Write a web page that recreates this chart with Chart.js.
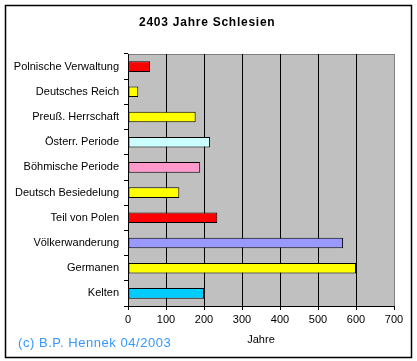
<!DOCTYPE html>
<html>
<head>
<meta charset="utf-8">
<script src="https://cdn.jsdelivr.net/npm/chart.js@4"></script>
<style>
  html, body { margin: 0; padding: 0; background: #fff; }
  #wrap { width: 417px; height: 361px; }
</style>
</head>
<body>
<div id="wrap"><canvas id="c" width="417" height="361"></canvas></div>
<script>
const categories = ["Polnische Verwaltung", "Deutsches Reich", "Preuß. Herrschaft", "Österr. Periode", "Böhmische Periode", "Deutsch Besiedelung", "Teil von Polen", "Völkerwanderung", "Germanen", "Kelten"];
const years = [58, 27, 178, 216, 190, 135, 235, 566, 600, 200];
const barColors = ["#FF0000", "#FFFF00", "#FFFF00", "#CCFFFF", "#FF99CC", "#FFFF00", "#FF0000", "#9999FF", "#FFFF00", "#00CCFF"];
const xTicks = [0, 100, 200, 300, 400, 500, 600, 700];
const chartTitle = "2403 Jahre Schlesien";
const axisTitle = "Jahre";
const credit = "(c) B.P. Hennek 04/2003";

const FONT = "Arial, 'Liberation Sans', sans-serif";

const decor = {
  id: 'decor',
  beforeDraw(chart) {
    const {ctx, chartArea: a} = chart;
    ctx.save();
    ctx.fillStyle = '#C0C0C0';
    ctx.fillRect(a.left, a.top, a.right - a.left, a.bottom - a.top);
    ctx.strokeStyle = '#808080';
    ctx.lineWidth = 1;
    ctx.beginPath();
    ctx.moveTo(a.left, a.top + 0.5);
    ctx.lineTo(a.right + 0.5, a.top + 0.5);
    ctx.lineTo(a.right + 0.5, a.bottom);
    ctx.stroke();
    ctx.restore();
  },
  afterDraw(chart) {
    const {ctx} = chart;
    ctx.save();
    ctx.strokeStyle = '#000';
    ctx.lineWidth = 1.5;
    ctx.strokeRect(5.5, 5.5, 406, 352);
    ctx.fillStyle = '#000';
    ctx.font = "bold 12px " + FONT;
    ctx.textAlign = 'left';
    ctx.textBaseline = 'middle';
    if ('letterSpacing' in ctx) ctx.letterSpacing = '0.75px';
    ctx.fillText(chartTitle, 139, 23);
    ctx.fillStyle = '#3399FF';
    ctx.font = "13px " + FONT;
    if ('letterSpacing' in ctx) ctx.letterSpacing = '0.55px';
    ctx.fillText(credit, 18, 343);
    ctx.restore();
  }
};

new Chart(document.getElementById('c'), {
  type: 'bar',
  data: {
    labels: categories,
    datasets: [{
      data: years,
      backgroundColor: barColors,
      borderColor: '#000',
      borderWidth: 1,
      borderSkipped: false,
      categoryPercentage: 1.0,
      barPercentage: 0.42
    }]
  },
  options: {
    indexAxis: 'y',
    responsive: false,
    animation: false,
    devicePixelRatio: 1,
    layout: { padding: { top: 54, right: 23, left: 0, bottom: 0 } },
    plugins: { legend: { display: false }, title: { display: false }, tooltip: { enabled: false } },
    scales: {
      x: {
        type: 'linear',
        min: 0, max: 700,
        afterBuildTicks(scale) { scale.ticks = xTicks.map(v => ({ value: v })); },
        afterFit(scale) { scale.height = 55; },
        grid: {
          color: ctx => (ctx.tick && ctx.tick.value === 700) ? '#808080' : '#000',
          tickColor: '#000',
          tickLength: 4,
          lineWidth: 1
        },
        border: { display: true, color: '#000', width: 1 },
        ticks: { color: '#000', font: { family: FONT, size: 11 }, padding: 3, maxRotation: 0 },
        title: { display: true, text: axisTitle, color: '#000', font: { family: FONT, size: 11 }, padding: { top: 0, bottom: 14 } }
      },
      y: {
        afterFit(scale) { scale.width = 128; },
        grid: { drawOnChartArea: false, drawTicks: true, tickLength: 4, color: '#000', offset: true },
        border: { display: true, color: '#000', width: 1 },
        ticks: { color: '#000', font: { family: FONT, size: 11 }, padding: 5, autoSkip: false }
      }
    }
  },
  plugins: [decor]
});
</script>
</body>
</html>
